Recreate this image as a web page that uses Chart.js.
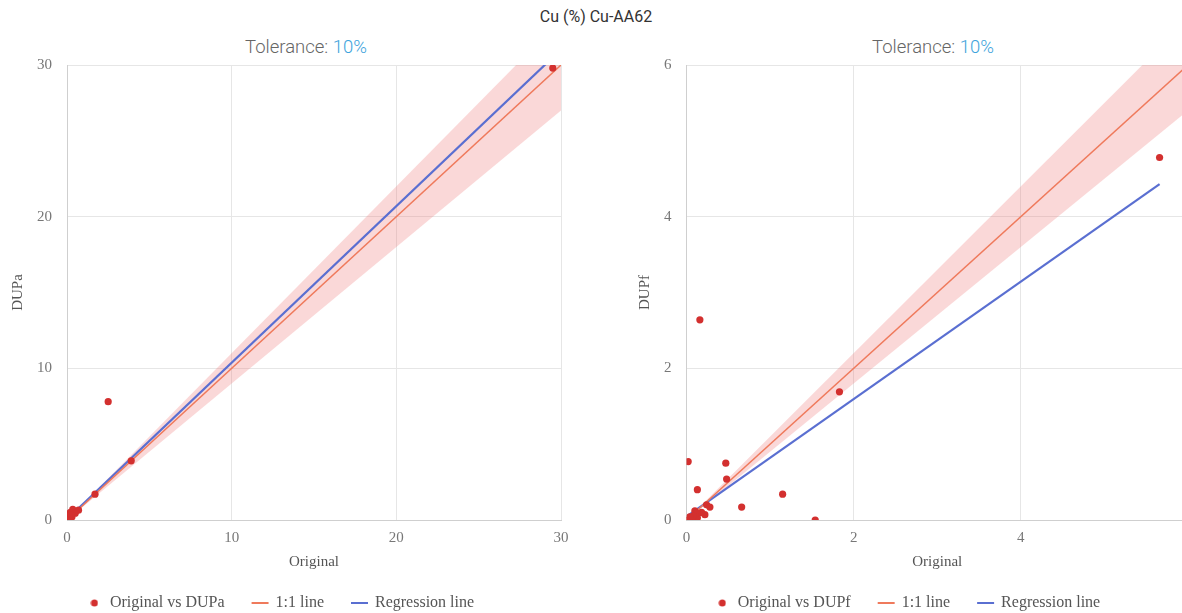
<!DOCTYPE html>
<html>
<head>
<meta charset="utf-8">
<script src="https://cdn.jsdelivr.net/npm/chart.js@4.4.0/dist/chart.umd.min.js"></script>
<style>
  html, body { margin: 0; padding: 0; background: #fff; overflow: hidden; width: 1182px; height: 613px; }
  #title { position: absolute; top: 8px; left: 0; width: 1192px; text-align: center; font: 16px/18px Roboto, sans-serif; color: #333; }
  .sub { position: absolute; top: 37px; width: 612px; text-align: center; font: 300 18.5px/20px Roboto, sans-serif; color: #666; }
  .sub span { color: #3ea3dc; }
  .box { position: absolute; top: 0; width: 612px; height: 621px; }
</style>
</head>
<body>
<div id="title">Cu (%) Cu-AA62</div>
<div class="sub" style="left:0">Tolerance: <span>10%</span></div>
<div class="sub" style="left:627px">Tolerance: <span>10%</span></div>
<div class="box" style="left:0"><canvas id="chart-dupa"></canvas></div>
<div class="box" style="left:627px"><canvas id="chart-dupf"></canvas></div>

<script>
// tolerance band, in percent
const tolerance = 10;

// left chart: Original vs DUPa
const origA = [29.5, 2.5, 3.9, 1.7, 0.0, 0.05, 0.1, 0.15, 0.2, 0.3, 0.35, 0.5, 0.7, 0.1, 0.25];
const dupA  = [29.8, 7.8, 3.9, 1.7, 0.0, 0.1, 0.3, 0.05, 0.5, 0.2, 0.7, 0.45, 0.65, 0.0, 0.35];
const regAx = [0, 29.5];
const regAy = [0.05, 30.5];
const ticksA = [0, 10, 20, 30];

// right chart: Original vs DUPf
const origB = [5.66, 0.16, 1.83, 0.02, 0.47, 0.48, 0.13, 1.15, 0.66, 1.54, 0.24, 0.28, 0.22, 0.10, 0.13, 0.02, 0.06, 0.12, 0.08, 0.18, 0.04];
const dupB  = [4.78, 2.64, 1.69, 0.77, 0.75, 0.54, 0.40, 0.34, 0.17, 0.00, 0.20, 0.17, 0.07, 0.12, 0.03, 0.00, 0.01, 0.09, 0.05, 0.10, 0.04];
const regBx = [0.02, 5.66];
const regBy = [0.06, 4.43];
const ticksB = [0, 2, 4, 6];

const SERIF = "'Liberation Serif', 'Times New Roman', serif";
const POINT = "#d3302f";
const ONE = "#ef7a5c";
const REG = "#5a6fd1";
const BAND = "rgba(236, 112, 112, 0.27)";

// small red dot used as the legend marker of the scatter series
const dot = document.createElement("canvas");
dot.width = 8; dot.height = 8;
const dctx = dot.getContext("2d");
dctx.fillStyle = POINT;
dctx.beginPath(); dctx.arc(4, 4, 3.5, 0, Math.PI * 2); dctx.fill();

function pairs(xs, ys) {
    return xs.map((x, i) => ({ x: x, y: ys[i] }));
}

function createComparisonChart(id, name, xs, ys, regX, regY, ticks) {
    const element = document.getElementById(id);
    if (!element) {
        console.error(id + " not found!");
        return;
    }
    const max = ticks[ticks.length - 1];
    const step = ticks[1] - ticks[0];
    const lo = 1 - tolerance / 100;
    const hi = 1 + tolerance / 100;

    new Chart(element, {
        type: "scatter",
        data: {
            datasets: [
                {
                    label: "Original vs " + name,
                    data: pairs(xs, ys),
                    backgroundColor: POINT,
                    borderWidth: 0,
                    pointRadius: 3.6
                },
                {
                    type: "line",
                    label: "1:1 line",
                    data: pairs([0, max], [0, max]),
                    borderColor: ONE,
                    backgroundColor: ONE,
                    borderWidth: 1.5,
                    pointRadius: 0,
                    fill: false
                },
                {
                    type: "line",
                    label: "Regression line",
                    data: pairs(regX, regY),
                    borderColor: REG,
                    backgroundColor: REG,
                    borderWidth: 2.2,
                    pointRadius: 0,
                    fill: false
                },
                {
                    type: "line",
                    label: "",
                    data: pairs([0, max * 2], [0, max * 2 * lo]),
                    borderColor: "transparent",
                    borderWidth: 0,
                    pointRadius: 0,
                    fill: false
                },
                {
                    type: "line",
                    label: "",
                    data: pairs([0, max * 2], [0, max * 2 * hi]),
                    borderColor: "transparent",
                    backgroundColor: BAND,
                    borderWidth: 0,
                    pointRadius: 0,
                    fill: "-1"
                }
            ]
        },
        options: {
            responsive: true,
            maintainAspectRatio: false,
            animation: false,
            layout: { padding: { top: 65, left: 0, right: 51, bottom: 0 } },
            scales: {
                x: {
                    type: "linear",
                    min: 0, max: max,
                    ticks: { stepSize: step, color: "#777", padding: 9, font: { family: SERIF, size: 15 } },
                    grid: { color: "#e6e6e6", drawTicks: false },
                    border: { color: "#cfcfcf" },
                    title: { display: true, text: "Original", color: "#555", padding: { top: -3, bottom: -4 }, font: { family: SERIF, size: 15 } }
                },
                y: {
                    type: "linear",
                    min: 0, max: max,
                    ticks: { stepSize: step, color: "#777", padding: 15, font: { family: SERIF, size: 15 } },
                    grid: { color: "#e6e6e6", drawTicks: false },
                    border: { color: "#cfcfcf" },
                    title: { display: true, text: name, color: "#555", padding: { top: 9, bottom: -5 }, font: { family: SERIF, size: 15 } }
                }
            },
            plugins: {
                tooltip: { enabled: false },
                legend: {
                    position: "bottom",
                    labels: {
                        usePointStyle: true,
                        boxWidth: 15,
                        boxHeight: 12,
                        padding: 28,
                        color: "#555",
                        font: { family: SERIF, size: 16 },
                        filter: (item) => item.text !== "",
                        generateLabels: (chart) => Chart.defaults.plugins.legend.labels.generateLabels(chart).map((item) => {
                            const ds = chart.data.datasets[item.datasetIndex];
                            item.pointStyle = ds.type === "line" ? "line" : dot;
                            item.strokeStyle = ds.borderColor;
                            item.lineWidth = ds.type === "line" ? 2 : 0;
                            return item;
                        })
                    }
                }
            }
        }
    });
}

createComparisonChart("chart-dupa", "DUPa", origA, dupA, regAx, regAy, ticksA);
createComparisonChart("chart-dupf", "DUPf", origB, dupB, regBx, regBy, ticksB);
</script>
</body>
</html>
